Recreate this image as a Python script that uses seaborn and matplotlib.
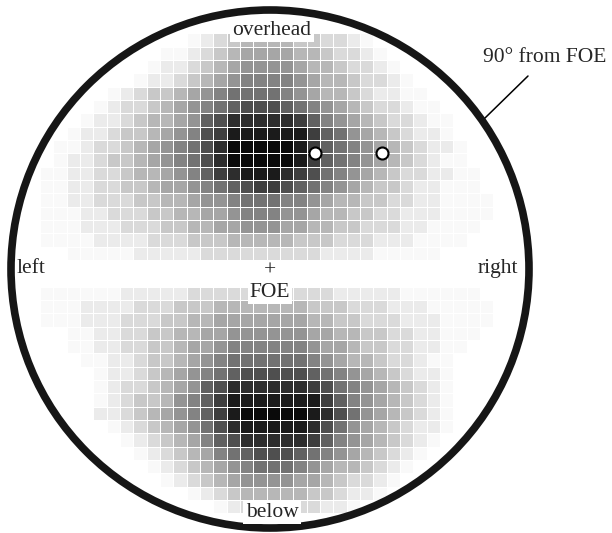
import numpy as np
import matplotlib
matplotlib.use("Agg")
import matplotlib.pyplot as plt
from matplotlib.colors import LinearSegmentedColormap
from matplotlib.patches import Circle
import seaborn as sns

# gray level of every grid cell, 0 = white ... F = black (one string per row, 36 columns)
upper_rows = [
    "000000000000" "12345555443321" "0000000000",
    "0000000000" "11234566665543321" "000000000",
    "000000000" "1223456777765543321" "00000000",
    "00000000" "122345678888765543321" "0000000",
    "000000" "123445678999987655432211" "000000",
    "00000" "1233456789ABBBA98765433211" "00000",
    "0000" "122345567" "AB" "DDDDD" "CA" "8765433211" "0000",
    "000" "1223445678" "BC" "EEEEE" "ECA9" "76543221" "0000",
    "00" "112334567" "89BDFFFFFECA" "9876543221" "000",
    "00" "122344567" "89BDFFFFFECA" "9876543211" "000",
    "0" "112233455" "678ACDEEEDCB" "987654332211" "00",
    "0" "112233445" "66789ABCCBA9" "876544322111" "00",
    "0" "112233344" "556778999887" "6554433221111" "0",
    "0" "111223334" "455667888776" "5544332221111" "0",
    "0" "111222333" "445566777665" "544333221111" "00",
    "0" "111122223" "334445555544" "43332221111" "000",
    "000" "11111" "22222" "333333333" "2222" "11111" "00000",
]
gap_rows = [
    "000000000000000000000000000000000000",
    "000000000000000000000000000000000000",
]
lower_rows = [
    "0" "111111" "22222" "33333333333" "22222" "111111" "00",
    "0" "111" "2222" "333" "444" "5555555" "444" "333" "222" "11111" "0",
    "0" "111" "222" "333" "44" "55" "6666666" "55" "44" "333" "222" "1111" "0",
    "000" "11" "22" "33" "44" "55" "66" "777777" "66" "55" "44" "33" "22" "111" "00",
    "000" "11223344" "5667" "888888" "7665" "44332211" "000",
    "0000" "1122344" "5678" "999999" "8765" "5433211" "0000",
    "00000" "122345678" "9ABBBBBA9" "876543221" "0000",
    "00000" "12334567" "ABDDDDDDCB9" "87654321" "0000",
    "00000" "12344578" "ACEEEEEEECA" "87654321" "0000",
    "00000" "22345678" "ACEFFFFFEDB" "97654321" "0000",
    "000000" "1234567" "9BDEEEEEDB9" "76543221" "0000",
    "0000000" "123456" "8ABDDDDDCA" "87654321" "00000",
    "00000000" "123456" "89ABBBA9" "87654321" "000000",
    "000000000" "12345678999876554321" "0000000",
    "0000000000" "123456777766543321" "00000000",
    "000000000000" "123455555443221" "000000000",
    "00000000000000" "12344433221" "00000000000",
]

# the two probe points (grid column, grid row)
probe_col = [21.6, 26.65]
probe_row = [9.0, 9.0]

rows = upper_rows + gap_rows + lower_rows
for r in rows:
    assert len(r) == 36, r
grid = np.array([[int(c, 16) for c in r] for r in rows], dtype=float)

sns.set_theme(style="white")
plt.rcParams['font.family'] = ['Liberation Serif', 'DejaVu Serif']

W, H = 612, 533
fig = plt.figure(figsize=(W / 100, H / 100), dpi=100)
fig.set_facecolor("white")

# heatmap axes sits where the cell grid is in the picture (cells are 13.33 px)
ax = fig.add_axes([26.67 / W, 1 - 513.33 / H, 480 / W, 480 / H])
cmap = LinearSegmentedColormap.from_list(
    "gray_ramp", [(0, "#ffffff"), (1 / 15, "#f9f9f9"), (2 / 15, "#ebebeb"), (1, "#0a0a0a")])
sns.heatmap(grid, ax=ax, cmap=cmap, vmin=0, vmax=15, cbar=False,
            linewidths=0.6, linecolor="white",
            xticklabels=False, yticklabels=False)
ax.scatter(probe_col, probe_row, s=75, facecolor="white", edgecolor="black",
           linewidth=1.5, zorder=5, clip_on=False)

# overlay in pixel units for the frame and the labels
ov = fig.add_axes([0, 0, 1, 1], facecolor="none")
ov.set_xlim(0, W)
ov.set_ylim(H, 0)
ov.axis("off")
ov.add_patch(Circle((270, 269), 259, fill=False, lw=5.5, ec="#161616"))
ov.plot([485, 528], [118, 76], color="black", lw=1.1)

fs = 15.5
white_box = dict(facecolor="white", edgecolor="none", pad=1.5)
ov.text(272, 35, "overhead", fontsize=fs, ha="center", va="baseline", bbox=white_box)
ov.text(272, 517, "below", fontsize=fs, ha="center", va="baseline", bbox=white_box)
ov.text(17, 272.7, "left", fontsize=fs, ha="left", va="baseline")
ov.text(478, 272.7, "right", fontsize=fs, ha="left", va="baseline")
ov.text(270, 271, "+", fontsize=fs, ha="center", va="center")
ov.text(270, 296.7, "FOE", fontsize=fs, ha="center", va="baseline", bbox=white_box)
ov.text(483, 61.7, "90° from FOE", fontsize=fs, ha="left", va="baseline")

fig.savefig("out.png", dpi=100, facecolor="white")
